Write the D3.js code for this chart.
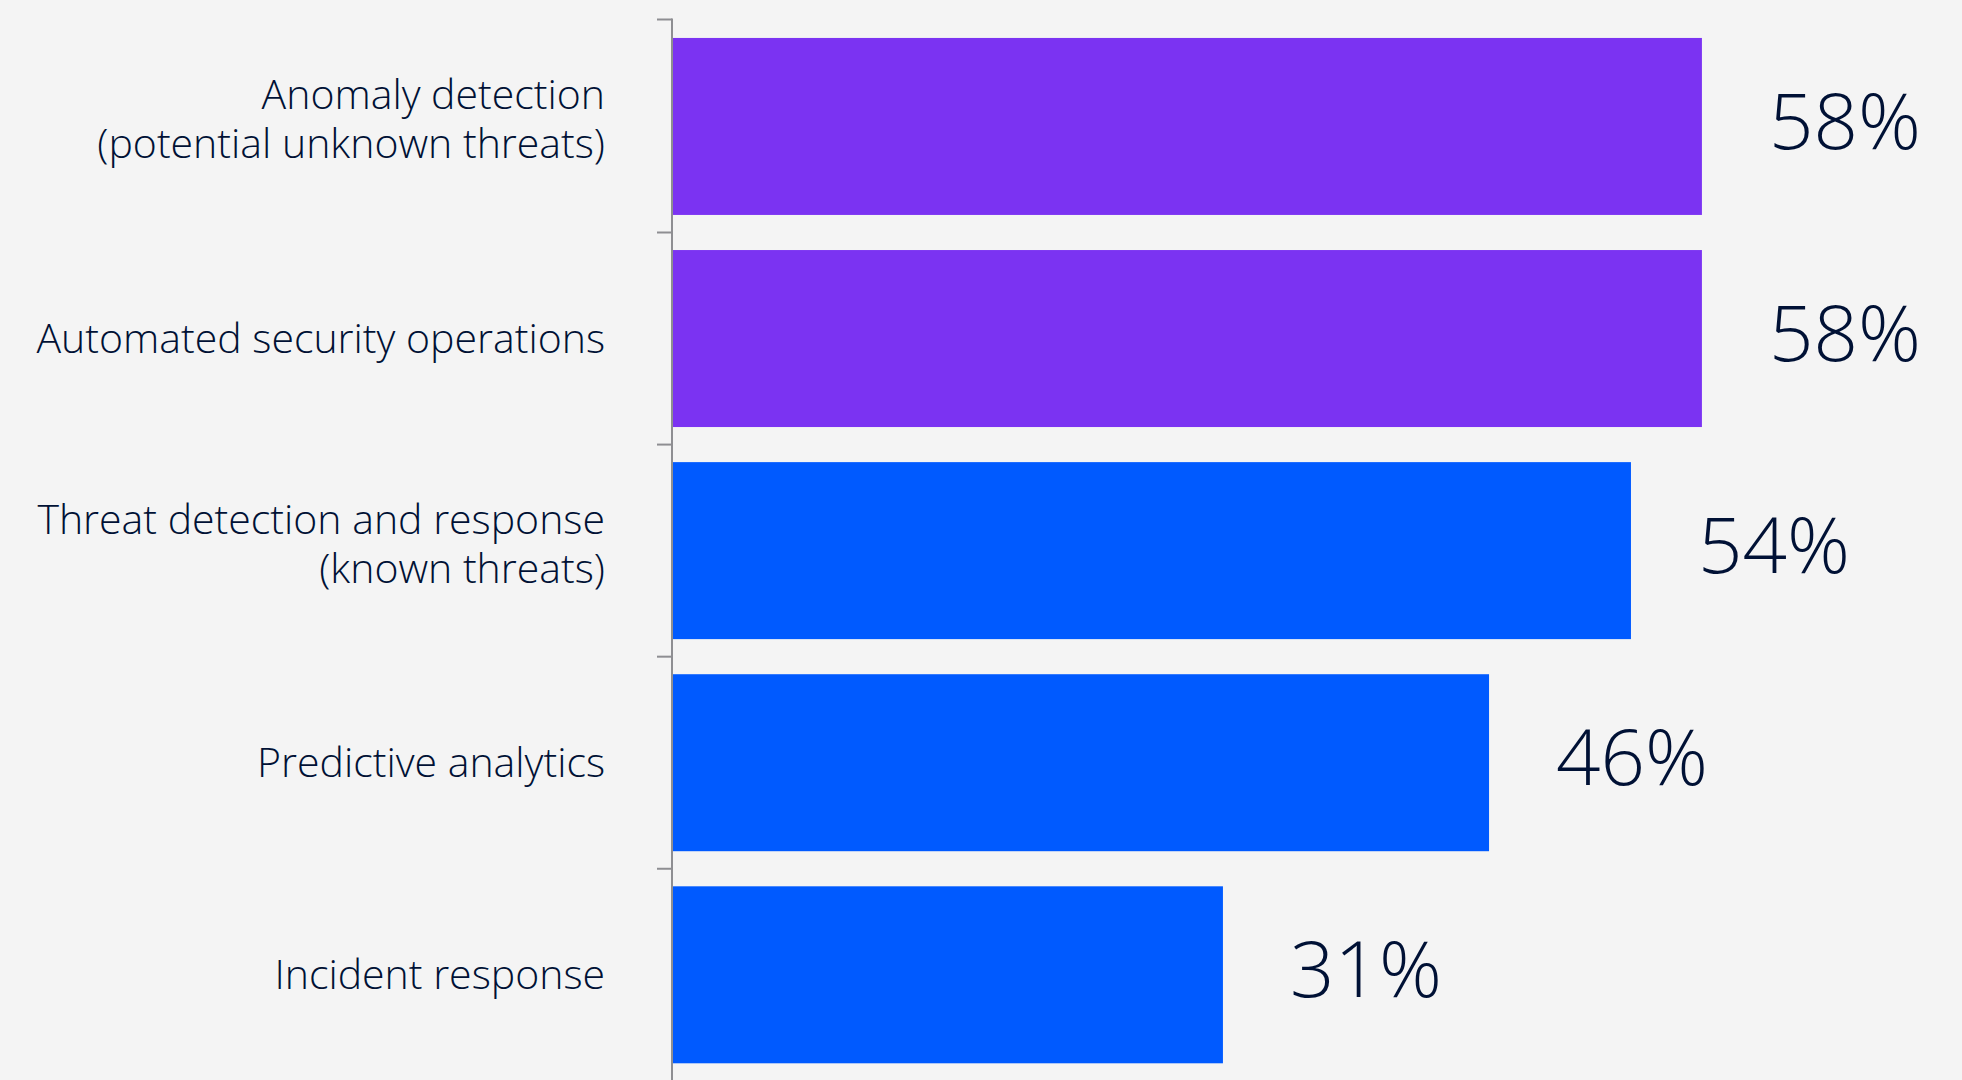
<!DOCTYPE html>
<html>
<head>
<meta charset="utf-8">
<script src="https://cdn.jsdelivr.net/npm/d3@7"></script>
<style>
  html, body { margin: 0; padding: 0; background: #f4f4f4; }
  svg { display: block; }
</style>
</head>
<body>
<svg id="chart" width="1962" height="1080"></svg>
<script>
// Share of respondents naming each AI use case in security
const categories = [
  ["Anomaly detection", "(potential unknown threats)"],
  ["Automated security operations"],
  ["Threat detection and response", "(known threats)"],
  ["Predictive analytics"],
  ["Incident response"]
];
const values = [58, 58, 54, 46, 31];
const barColors = ["#7b33f2", "#7b33f2", "#005aff", "#005aff", "#005aff"];

const W = 1962, H = 1080;
const ink = "#001135";
const svg = d3.select("#chart");

svg.append("rect").attr("width", W).attr("height", H).attr("fill", "#f4f4f4");

const keys = categories.map(c => c.join(" "));
const axisX = 672;

const y = d3.scaleBand()
  .domain(keys)
  .range([19.5, 1081.75])
  .paddingInner(0.1655)
  .paddingOuter(0.087);

const x = d3.scaleLinear().domain([0, 100]).range([axisX + 1, axisX + 1 + 1774]);

const rows = keys.map((k, i) => ({ key: k, lines: categories[i], value: values[i], color: barColors[i] }));

// bars
svg.append("g").selectAll("rect")
  .data(rows)
  .join("rect")
  .attr("x", x(0))
  .attr("y", d => y(d.key))
  .attr("width", d => x(d.value) - x(0))
  .attr("height", y.bandwidth())
  .attr("fill", d => d.color);

// vertical axis; ticks sit at the top of the range and midway between bars
const gapHalf = y.step() * y.paddingInner() / 2;
const boundaries = [y.range()[0]].concat(keys.slice(1).map(k => y(k) - gapHalf));
const axis = svg.append("g").attr("stroke", "#8e8e92").attr("stroke-width", 2);
axis.append("line")
  .attr("x1", axisX).attr("x2", axisX)
  .attr("y1", boundaries[0] - 1).attr("y2", H + 10);
axis.selectAll("line.tick")
  .data(boundaries)
  .join("line")
  .attr("class", "tick")
  .attr("x1", axisX - 15).attr("x2", axisX)
  .attr("y1", d => d).attr("y2", d => d);

// category labels
const labelX = 605;
const lab = svg.append("g")
  .attr("font-family", "'Open Sans', sans-serif")
  .attr("font-size", 41)
  .attr("font-weight", 350)
  .attr("fill", ink)
  .attr("text-anchor", "end");

rows.forEach(d => {
  const cy = y(d.key) + y.bandwidth() / 2;
  const t = lab.append("text").attr("x", labelX);
  if (d.lines.length === 1) {
    t.append("tspan").attr("x", labelX).attr("y", cy + 14.5).text(d.lines[0]);
  } else {
    d.lines.forEach((ln, j) => {
      t.append("tspan").attr("x", labelX).attr("y", cy - 17 + j * 49).text(ln);
    });
  }
});

// value labels
svg.append("g")
  .attr("font-family", "'Open Sans', sans-serif")
  .attr("font-weight", 300)
  .attr("font-size", 78)
  .attr("fill", ink)
  .selectAll("text")
  .data(rows)
  .join("text")
  .attr("x", d => x(d.value) + 67)
  .attr("y", d => y(d.key) + y.bandwidth() / 2 + 22.5)
  .text(d => d.value + "%");
</script>
</body>
</html>
